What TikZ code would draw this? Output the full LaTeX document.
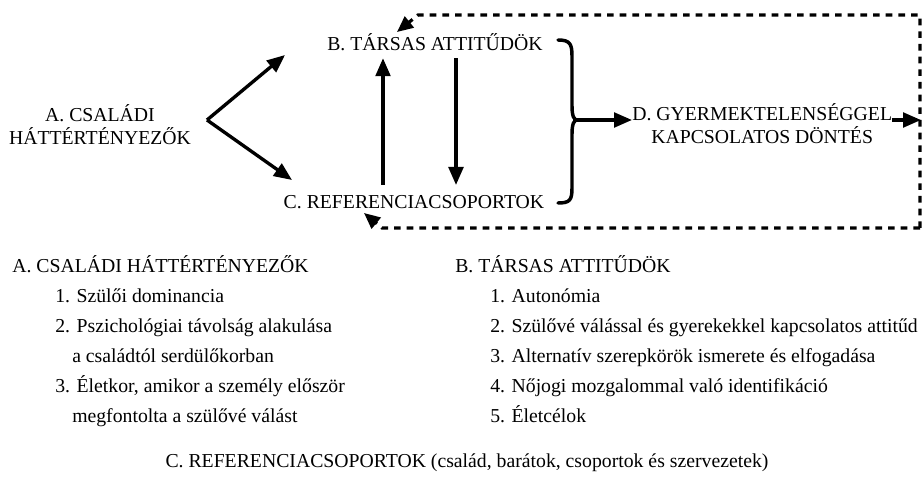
\documentclass[tikz,border=0pt]{standalone}
\usepackage{fontspec}
\setmainfont{Liberation Serif}
\usetikzlibrary{calc}
\usetikzlibrary{arrows.meta}
\begin{document}
\begin{tikzpicture}[x=0.75pt,y=-0.75pt,
  lbl/.style={font=\fontsize{14.8}{17.25}\selectfont,inner sep=0pt,align=center},
  itm/.style={font=\fontsize{14.8}{17.25}\selectfont,inner sep=0pt,anchor=base west},
  arr/.style={line width=2.5pt,-{Triangle[length=13.5pt,width=11pt]}},
  dsh/.style={line width=2.4pt,dash pattern=on 5pt off 4.5pt,-{Triangle[length=12pt,width=10.5pt]}}]
\useasboundingbox (0,0) rectangle (922,477);
\def\d{30};
% top diagram
\node[lbl] (A) at (100,125) {A. CSALÁDI\\HÁTTÉRTÉNYEZŐK};
\node[lbl,anchor=base] (B) at (435,51) {B. TÁRSAS ATTITŰDÖK};
\node[lbl,anchor=base] (C) at (414,209) {C. REFERENCIACSOPORTOK};
\node[lbl,anchor=west] (D) at (632,124) {D. GYERMEKTELENSÉGGEL\\KAPCSOLATOS DÖNTÉS};
\coordinate (av) at (207,120);
\coordinate (bt) at (577,120);
\coordinate (re) at (921,120);
\draw[arr] (av)--(285,55);
\draw[arr] (av)--(292,180);
\draw[arr] ([yshift=8pt]C.north -| 383,0)--([yshift=-5pt]B.south -| 383,0);
\draw[arr] ([yshift=-5pt]B.south -| 456,0)--([yshift=8pt]C.north -| 456,0);
% brace
\draw[line width=2.6pt,line cap=round] (558,40) .. controls (570,40) and (572,44) .. (572,56)
  -- (572,106) .. controls (572,116) and (574,120) .. (bt)
  .. controls (574,120) and (572,124) .. (572,134)
  -- (572,188) .. controls (572,200) and (570,203) .. (558,203);
\draw[arr] (bt)--(bt -| D.west);
\draw[arr] (re -| D.east)--(re);
% feedback
\draw[dsh] (920,228)--(920,15)--(418,15)--(397,32);
\draw[dsh] (920,228)--(382,228)--(364,213);
% lists
\node[itm] (LA) at (12,273) {A. CSALÁDI HÁTTÉRTÉNYEZŐK};
\node[itm] (LA1) at (55,273+\d) {1. Szülői dominancia};
\node[itm] (LA2) at (55,273+2*\d) {2. Pszichológiai távolság alakulása};
\node[itm] (LA2b) at (72,273+3*\d) {a családtól serdülőkorban};
\node[itm] (LA3) at (55,273+4*\d) {3. Életkor, amikor a személy először};
\node[itm] (LA3b) at (72,273+5*\d) {megfontolta a szülővé válást};
\node[itm] (LB) at (455,273) {B. TÁRSAS ATTITŰDÖK};
\node[itm] (LB1) at (490,273+\d) {1. Autonómia};
\node[itm] (LB2) at (490,273+2*\d) {2. Szülővé válással és gyerekekkel kapcsolatos attitűd};
\node[itm] (LB3) at (490,273+3*\d) {3. Alternatív szerepkörök ismerete és elfogadása};
\node[itm] (LB4) at (490,273+4*\d) {4. Nőjogi mozgalommal való identifikáció};
\node[itm] (LB5) at (490,273+5*\d) {5. Életcélok};
\node[lbl,anchor=base] (LC) at (467,468) {C. REFERENCIACSOPORTOK (család, barátok, csoportok és szervezetek)};
\end{tikzpicture}
\end{document}
